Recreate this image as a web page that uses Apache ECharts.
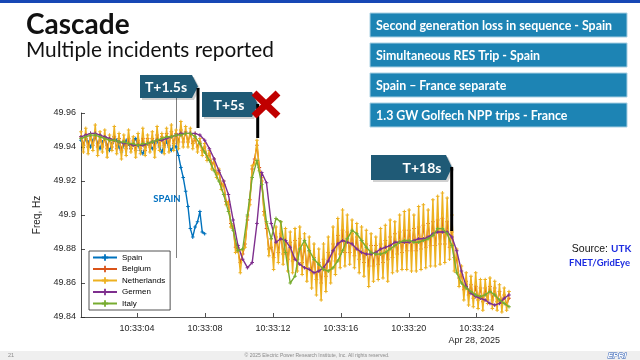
<!DOCTYPE html>
<html><head><meta charset="utf-8">
<script src="https://cdn.jsdelivr.net/npm/echarts@6/dist/echarts.min.js"></script>
<style>html,body{margin:0;padding:0;background:#fff}#c{width:640px;height:360px}</style>
</head><body><div id="c"></div>
<script>
// ---- data (frequency in Hz, seconds after 10:33:00) ----
const seriesNames = ['Spain', 'Belgium', 'Netherlands', 'Germen', 'Italy'];
const startSecond = 0.7;     // first sample
const fineStep = 0.14;       // sample spacing of Spain / Belgium / Netherlands
const coarseStep = 0.28;     // sample spacing of Germen / Italy
const xTickSeconds = [4, 8, 12, 16, 20, 24];
const xMinSecond = 0.7, xMaxSecond = 25.9;
const yMin = 49.84, yMax = 49.96, yStep = 0.02;

const spain = [49.944,49.941,49.945,49.943,49.940,49.944,49.946,49.942,49.939,49.943,
 49.945,49.941,49.938,49.942,49.946,49.944,49.940,49.937,49.941,49.944,
 49.942,49.939,49.943,49.945,49.941,49.938,49.936,49.940,49.943,49.941,
 49.939,49.942,49.944,49.940,49.937,49.941,49.943,49.940,49.938,49.941,
 49.940,49.935,49.928,49.922,49.914,49.905,49.892,49.887,49.893,49.896,
 49.902,49.890,49.889];

const belgium = [49.946,49.941,49.947,49.940,49.946,49.941,49.948,49.940,49.946,49.940,
 49.946,49.939,49.945,49.940,49.946,49.939,49.945,49.938,49.944,49.939,
 49.945,49.939,49.944,49.938,49.944,49.939,49.945,49.938,49.945,49.940,
 49.945,49.939,49.947,49.941,49.946,49.940,49.948,49.941,49.949,49.942,
 49.948,49.943,49.950,49.943,49.949,49.943,49.948,49.942,49.945,49.940,
 49.943,49.938,49.940,49.934,49.936,49.930,49.931,49.924,49.925,49.918,
 49.918,49.908,49.906,49.895,49.892,49.881,49.879,49.872,49.877,49.883,
 49.897,49.909,49.927,49.933,49.941,49.928,49.920,49.902,49.892,49.880,
 49.881,49.875,49.887,49.878,49.889,49.877,49.885,49.874,49.884,49.873,
 49.885,49.874,49.886,49.872,49.882,49.869,49.879,49.866,49.875,49.862,
 49.872,49.860,49.874,49.864,49.878,49.868,49.883,49.873,49.888,49.877,
 49.891,49.878,49.890,49.878,49.889,49.876,49.887,49.874,49.885,49.872,
 49.883,49.870,49.882,49.870,49.882,49.871,49.883,49.872,49.885,49.874,
 49.887,49.875,49.889,49.877,49.890,49.878,49.891,49.879,49.891,49.879,
 49.892,49.879,49.893,49.880,49.894,49.881,49.895,49.882,49.896,49.882,
 49.897,49.883,49.898,49.883,49.896,49.881,49.890,49.875,49.874,49.863,
 49.865,49.856,49.861,49.853,49.859,49.851,49.858,49.850,49.857,49.849,
 49.857,49.850,49.858,49.850,49.857,49.849,49.855,49.848,49.853,49.847,
 49.851];

const netherlands = [49.949,49.937,49.951,49.936,49.948,49.938,49.953,49.935,49.949,49.937,
 49.950,49.934,49.947,49.938,49.952,49.936,49.948,49.933,49.947,49.935,
 49.950,49.937,49.946,49.934,49.948,49.936,49.951,49.935,49.947,49.937,
 49.949,49.934,49.952,49.938,49.948,49.936,49.951,49.937,49.953,49.938,
 49.950,49.939,49.955,49.940,49.952,49.940,49.951,49.939,49.948,49.937,
 49.945,49.935,49.942,49.932,49.938,49.927,49.933,49.922,49.927,49.915,
 49.920,49.906,49.908,49.893,49.894,49.878,49.881,49.866,49.879,49.881,
 49.899,49.906,49.929,49.930,49.944,49.926,49.922,49.900,49.895,49.876,
 49.886,49.868,49.893,49.872,49.896,49.871,49.892,49.867,49.890,49.866,
 49.892,49.867,49.893,49.865,49.889,49.861,49.887,49.857,49.883,49.853,
 49.880,49.850,49.883,49.855,49.887,49.860,49.893,49.865,49.898,49.869,
 49.903,49.870,49.900,49.871,49.897,49.869,49.895,49.866,49.893,49.864,
 49.891,49.858,49.889,49.861,49.887,49.862,49.892,49.863,49.894,49.861,
 49.897,49.866,49.896,49.867,49.900,49.868,49.902,49.868,49.903,49.867,
 49.900,49.867,49.905,49.868,49.906,49.869,49.903,49.870,49.909,49.870,
 49.911,49.871,49.913,49.872,49.910,49.874,49.900,49.867,49.880,49.858,
 49.870,49.850,49.866,49.847,49.864,49.846,49.866,49.845,49.862,49.844,
 49.862,49.848,49.863,49.845,49.861,49.844,49.859,49.843,49.857,49.844,
 49.855];

const germen = [49.946,49.947,49.948,49.948,49.947,49.946,49.945,49.944,49.943,49.942,
 49.942,49.941,49.941,49.941,49.942,49.943,49.944,49.944,49.945,49.946,
 49.947,49.948,49.948,49.948,49.948,49.947,49.944,49.939,49.933,49.926,
 49.920,49.912,49.897,49.882,49.874,49.869,49.872,49.895,49.925,49.919,
 49.895,49.884,49.886,49.885,49.881,49.874,49.871,49.869,49.868,49.866,
 49.867,49.869,49.873,49.879,49.883,49.885,49.884,49.883,49.880,49.878,
 49.877,49.877,49.878,49.880,49.881,49.882,49.884,49.884,49.884,49.884,
 49.885,49.886,49.886,49.887,49.889,49.890,49.890,49.890,49.887,49.879,
 49.867,49.858,49.854,49.852,49.851,49.850,49.848,49.847,49.848,49.851,
 49.853];

const italy = [49.945,49.946,49.947,49.947,49.946,49.945,49.944,49.944,49.943,49.943,
 49.942,49.942,49.941,49.942,49.942,49.943,49.944,49.945,49.946,49.946,
 49.947,49.947,49.948,49.948,49.946,49.942,49.937,49.932,49.926,49.920,
 49.912,49.902,49.891,49.879,49.880,49.900,49.922,49.932,49.918,49.896,
 49.886,49.898,49.896,49.878,49.860,49.864,49.880,49.885,49.879,49.874,
 49.871,49.868,49.867,49.869,49.873,49.879,49.886,49.891,49.889,49.885,
 49.881,49.878,49.877,49.877,49.878,49.880,49.882,49.884,49.885,49.885,
 49.884,49.884,49.885,49.886,49.888,49.892,49.892,49.889,49.882,49.866,
 49.860,49.857,49.855,49.853,49.852,49.853,49.855,49.853,49.850,49.848,
 49.846];

// ---- build ----
const colors = ['#0072BD', '#D95319', '#EDB120', '#7E2F8E', '#77AC30'];
const plus = 'path://M3.6,0H6.4V3.6H10V6.4H6.4V10H3.6V6.4H0V3.6H3.6Z';
function toPoints(vals, step) {
  return vals.map((v, i) => [Math.round((startSecond + i * step) * 100) / 100, v]);
}
const seriesData = [toPoints(spain, fineStep), toPoints(belgium, fineStep),
  toPoints(netherlands, fineStep), toPoints(germen, coarseStep), toPoints(italy, coarseStep)];

const chart = echarts.init(document.getElementById('c'), null, {renderer: 'canvas'});
const AX = '#262626';
const boxBlue = '#1d84b4', tagBlue = '#1f5a76';
function tag(x0, x1, y0, y1, label, tx) {
  const ym = (y0 + y1) / 2;
  return [
    {type: 'polygon', z: 100, shape: {points: [[x0 + 2, y0 + 2], [x1 + 2, y0 + 2], [x1 + 8, ym + 2], [x1 + 2, y1 + 2], [x0 + 2, y1 + 2]]}, style: {fill: 'rgba(0,0,0,0.18)'}},
    {type: 'polygon', z: 101, shape: {points: [[x0, y0], [x1, y0], [x1 + 6, ym], [x1, y1], [x0, y1]]}, style: {fill: tagBlue}},
    {type: 'text', z: 102, style: {text: label, x: tx, y: ym + 0.5, align: 'center', verticalAlign: 'middle', font: 'bold 14px Lato, "Open Sans", sans-serif', fill: '#fff'}}
  ];
}
function rbox(y, label) {
  return [
    {type: 'rect', z: 100, shape: {x: 370, y: y, width: 257, height: 24}, style: {fill: boxBlue, stroke: '#a9d0e3', lineWidth: 1}},
    {type: 'text', z: 101, style: {text: label, x: 376, y: y + 12.5, align: 'left', verticalAlign: 'middle', font: 'bold 12.4px Lato, "Open Sans", sans-serif', fill: '#fff'}}
  ];
}
const graphics = [].concat(
  [{type: 'rect', z: 100, shape: {x: 0, y: 0, width: 640, height: 3}, style: {fill: '#1747b5'}},
   {type: 'text', z: 100, style: {text: 'Cascade', x: 26, y: 25, verticalAlign: 'middle', font: 'bold 28px Lato, "Noto Sans", sans-serif', fill: '#111'}},
   {type: 'text', z: 100, style: {text: 'Multiple incidents reported', x: 26, y: 50, verticalAlign: 'middle', font: '20.8px Lato, "Noto Sans", sans-serif', fill: '#111'}}],
  rbox(13, 'Second generation loss in sequence - Spain'),
  rbox(43, 'Simultaneous RES Trip - Spain'),
  rbox(73, 'Spain \u2013 France separate'),
  rbox(103, '1.3 GW Golfech NPP trips - France'),
  [{type: 'line', z: 1, shape: {x1: 176.5, y1: 96, x2: 176.5, y2: 258}, style: {stroke: '#808080', lineWidth: 1}},
   {type: 'text', z: 50, style: {text: 'SPAIN', x: 167, y: 199, align: 'center', verticalAlign: 'middle', font: 'bold 9.5px Lato, "Open Sans", sans-serif', fill: '#0070C0'}}],
  tag(140, 192, 75, 98, 'T+1.5s', 166),
  tag(202, 252, 92, 117, 'T+5s', 229),
  tag(371, 446, 155, 180, 'T+18s', 422),
  [{type: 'line', z: 103, shape: {x1: 198, y1: 88, x2: 198, y2: 128}, style: {stroke: '#000', lineWidth: 3}},
   {type: 'line', z: 103, shape: {x1: 257.7, y1: 104, x2: 257.7, y2: 138}, style: {stroke: '#000', lineWidth: 3}},
   {type: 'line', z: 103, shape: {x1: 451.7, y1: 167, x2: 451.7, y2: 231}, style: {stroke: '#000', lineWidth: 3}},
   {type: 'line', z: 104, shape: {x1: 254, y1: 93, x2: 278, y2: 116}, style: {stroke: '#c00000', lineWidth: 7}},
   {type: 'line', z: 104, shape: {x1: 278, y1: 93, x2: 254, y2: 116}, style: {stroke: '#c00000', lineWidth: 7}},
   {type: 'text', z: 100, style: {text: 'Apr 28, 2025', x: 500, y: 341, align: 'right', verticalAlign: 'middle', font: '9px "Liberation Sans", Arial, sans-serif', fill: AX}},
   {type: 'text', z: 100, style: {text: 'Source:', x: 608, y: 249, align: 'right', verticalAlign: 'middle', font: '10.5px "Liberation Sans", Arial, sans-serif', fill: '#111'}},
   {type: 'text', z: 100, style: {text: 'UTK', x: 611, y: 249, align: 'left', verticalAlign: 'middle', font: 'bold 10px Lato, sans-serif', fill: '#1c2ce0'}},
   {type: 'text', z: 100, style: {text: 'FNET/GridEye', x: 630, y: 263, align: 'right', verticalAlign: 'middle', font: 'bold 9.5px Lato, sans-serif', fill: '#1c2ce0'}},
   {type: 'rect', z: 100, shape: {x: 0, y: 351, width: 640, height: 9}, style: {fill: '#efefef'}},
   {type: 'text', z: 101, style: {text: '\u00a9 2025 Electric Power Research Institute, Inc. All rights reserved.', x: 317, y: 355.5, align: 'center', verticalAlign: 'middle', font: '5px "Liberation Sans", Arial, sans-serif', fill: '#8a8a8a'}},
   {type: 'text', z: 101, style: {text: '21', x: 8, y: 355.5, align: 'left', verticalAlign: 'middle', font: '5.5px "Liberation Sans", Arial, sans-serif', fill: '#8a8a8a'}},
   {type: 'text', z: 101, style: {text: 'EPRI', x: 617, y: 355.5, align: 'center', verticalAlign: 'middle', font: 'bold italic 8px "Liberation Sans", Arial, sans-serif', fill: '#fff', stroke: '#2a5bb5', lineWidth: 0.9}}]
);

chart.setOption({
  animation: false,
  backgroundColor: '#fff',
  grid: {left: 81, right: 131, top: 113, bottom: 43, containLabel: false, outerBoundsMode: 'none'},
  legend: {
    orient: 'vertical', left: 89, top: 251, itemWidth: 24, itemHeight: 8, itemGap: 3.5,
    padding: [2.5, 5, 2.5, 3], backgroundColor: '#fff', borderColor: AX, borderWidth: 0.8,
    borderRadius: 0, data: seriesNames,
    textStyle: {fontSize: 8, fontFamily: '"Liberation Sans", Arial, sans-serif', color: '#000', lineHeight: 8}
  },
  xAxis: {
    type: 'value', min: xMinSecond, max: xMaxSecond,
    axisLine: {lineStyle: {color: AX, width: 0.8}},
    axisTick: {inside: true, length: 4, lineStyle: {color: AX, width: 0.8}, customValues: xTickSeconds},
    axisLabel: {customValues: xTickSeconds, margin: 7, fontSize: 9, fontFamily: '"Liberation Sans", Arial, sans-serif', color: AX,
      formatter: v => '10:33:' + String(Math.round(v)).padStart(2, '0')},
    splitLine: {show: false}
  },
  yAxis: {
    type: 'value', min: yMin, max: yMax, interval: yStep,
    name: 'Freq, Hz', nameLocation: 'middle', nameGap: 27,
    nameTextStyle: {fontSize: 10, fontFamily: '"Liberation Sans", Arial, sans-serif', color: AX},
    axisLine: {show: true, lineStyle: {color: AX, width: 0.8}},
    axisTick: {show: true, inside: true, length: 4, lineStyle: {color: AX, width: 0.8}},
    axisLabel: {margin: 5, fontSize: 9, fontFamily: '"Liberation Sans", Arial, sans-serif', color: AX,
      formatter: v => String(+v.toFixed(2))},
    splitLine: {show: false}
  },
  series: seriesNames.map((n, k) => ({
    name: n, type: 'line', data: seriesData[k], color: colors[k],
    symbol: plus, symbolSize: 3.6, showAllSymbol: true,
    lineStyle: {width: 1.4, color: colors[k]}, itemStyle: {color: colors[k]},
    emphasis: {disabled: true}, z: 2 + k
  })),
  graphic: graphics
});
</script>
</body></html>
